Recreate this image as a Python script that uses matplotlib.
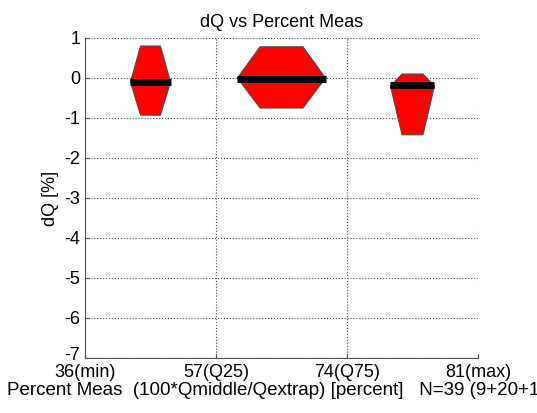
import matplotlib
matplotlib.use("Agg")
import matplotlib.pyplot as plt
import matplotlib.transforms as mtransforms
from matplotlib.patches import Polygon

plt.rcParams['font.family'] = ['Liberation Sans', 'DejaVu Sans']
plt.rcParams['axes.unicode_minus'] = False

# bins (between quartile ticks)
centers = [0.5, 1.5, 2.5]
tops = [0.80, 0.78, 0.10]
mids = [-0.10, 0.0, -0.20]
bottoms = [-0.93, -0.75, -1.42]
medians = [-0.11, -0.03, -0.17]
half_wide = [0.153, 0.336, 0.168]
half_narrow = [0.076, 0.164, 0.080]

tick_labels = ["36(min)", "57(Q25)", "74(Q75)", "81(max)"]

fig = plt.figure(figsize=(5.37, 4.13), dpi=100)
ax = fig.add_axes([0.1583, 0.1332, 0.7318, 0.7748])

for c, t, m, b, md, hw, hn in zip(centers, tops, mids, bottoms, medians, half_wide, half_narrow):
    pts = [(c - hn, t), (c + hn, t), (c + hw, m), (c + hn, b), (c - hn, b), (c - hw, m)]
    ax.add_patch(Polygon(pts, closed=True, facecolor='red', edgecolor='0.3', linewidth=0.8, zorder=2))
    ax.plot([c - hw, c + hw], [md, md], color='black', linewidth=5, solid_capstyle='butt', zorder=3)

ax.set_xlim(0, 3)
ax.set_ylim(-7, 1)
ax.set_xticks(range(4))
ax.set_xticklabels(tick_labels)
ax.set_yticks(range(-7, 2))
ax.grid(True, linestyle=':', color='0.3', linewidth=0.8)
ax.set_axisbelow(True)
for s in ['top', 'right']:
    ax.spines[s].set_visible(False)
for s in ['left', 'bottom']:
    ax.spines[s].set_color('0.3')
ax.tick_params(direction='in', length=3, labelsize=13, color='0.3')
ax.tick_params(axis='x', pad=4)

# lift the bottom "-7" label a little, as in the original
lab = ax.yaxis.get_major_ticks()[0].label1
lab.set_transform(lab.get_transform() + mtransforms.ScaledTranslation(0, 3 / 72, fig.dpi_scale_trans))

ax.set_title("dQ vs Percent Meas", fontsize=13, pad=8)
ax.set_ylabel("dQ [%]", fontsize=13, labelpad=4)
ax.set_xlabel("Percent Meas  (100*Qmiddle/Qextrap) [percent]   N=39 (9+20+10)", fontsize=13.5, labelpad=1)

fig.savefig("out.png", dpi=100)
